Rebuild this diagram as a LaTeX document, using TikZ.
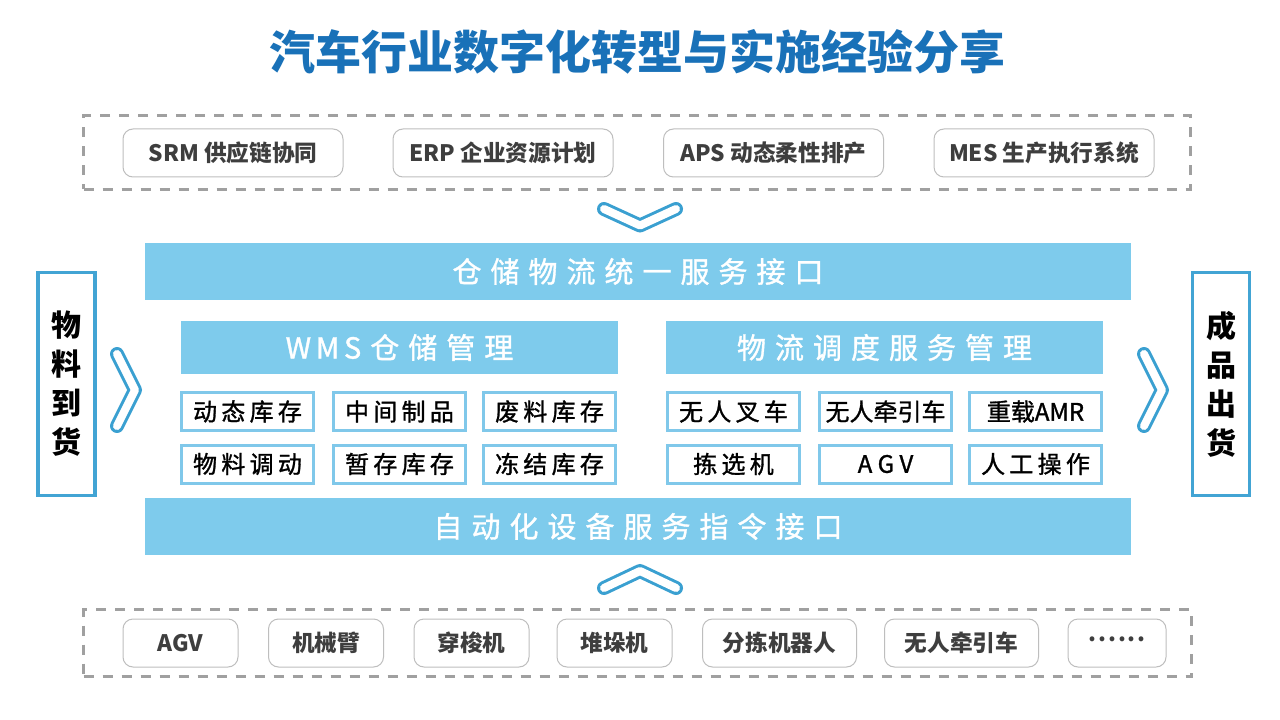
\documentclass[tikz,border=0pt]{standalone}
\usepackage{fontspec}
\setmainfont{Noto Sans CJK SC}
\newfontfamily\cjk{Noto Sans CJK SC}
\newfontfamily\cjkm[FakeBold=1.2]{Noto Sans CJK SC}
\definecolor{titleblue}{RGB}{25,113,184}
\definecolor{bandblue}{RGB}{126,203,236}
\definecolor{subblue}{RGB}{128,200,234}
\definecolor{chevblue}{RGB}{58,160,209}
\definecolor{sideblue}{RGB}{66,164,212}
\definecolor{dashgray}{RGB}{160,160,160}
\definecolor{boxgray}{RGB}{190,190,190}
\definecolor{textgray}{RGB}{62,62,62}
\newcommand\spr[2]{\def\sprsep{\hskip#1\relax}\spraux#2\relax}
\def\spraux#1{\ifx#1\relax\unskip\else#1\sprsep\expandafter\spraux\fi}
\tikzset{
  groupbox/.style={draw=dashgray, line width=2.25pt, dash pattern=on 7.5pt off 6.75pt, inner sep=0pt},
  itembox/.style={draw=boxgray, line width=0.75pt, rounded corners=7.5pt, fill=white, inner sep=0pt,
    minimum height=36pt, text=textgray, font=\cjk\bfseries\fontsize{17pt}{20pt}\selectfont},
  band/.style={fill=bandblue, inner sep=0pt, text=white, font=\cjkm\fontsize{21.75pt}{24pt}\selectfont},
  subbox/.style={draw=subblue, line width=2.25pt, fill=white, inner sep=0pt, minimum width=99pt,
    minimum height=28.5pt, text=black, font=\cjkm\fontsize{18pt}{20pt}\selectfont},
  sidebox/.style={draw=sideblue, line width=2.6pt, fill=white, inner sep=0pt, minimum width=43pt,
    minimum height=167pt, align=center, text=black, font=\cjk\bfseries\fontsize{22.5pt}{29.25pt}\selectfont},
  chev/.style={draw=chevblue, line width=2.25pt, double=white, double distance=6pt, line cap=round, line join=round}
}
\begin{document}
\begin{tikzpicture}[x=0.75pt,y=-0.75pt]
\useasboundingbox[fill=white] (0,0) rectangle (1280,720);

% title
\node[text=titleblue, font=\cjk\bfseries\fontsize{34.5pt}{40pt}\selectfont, inner sep=0pt] (title) at (637.5,52) {汽车行业数字化转型与实施经验分享};

% top group
\node[groupbox, minimum width=830pt, minimum height=55.5pt] (topgroup) at (637,152.5) {};
\node[itembox, minimum width=165pt] (srm) at (233,153) {SRM 供应链协同};
\node[itembox, minimum width=165pt] (erp) at (503,153) {ERP 企业资源计划};
\node[itembox, minimum width=165pt] (aps) at (773.5,153) {APS 动态柔性排产};
\node[itembox, minimum width=165pt] (mes) at (1044,153) {MES 生产执行系统};

% down chevron
\coordinate (cd1) at (604,209); \coordinate (cd2) at (640,225.5); \coordinate (cd3) at (676,209);
\draw[chev] (cd1) -- (cd2) -- (cd3);

% bands
\node[band, minimum width=739.5pt, minimum height=42.75pt] (upband) at (638,271.5) {\spr{6.75pt}{仓储物流统一服务接口}};
\node[band, minimum width=739.5pt, minimum height=42.75pt] (lowband) at (638,526.5) {\spr{6.75pt}{自动化设备服务指令接口}};
\node[band, minimum width=327.75pt, minimum height=39.75pt] (wms) at (399.5,347.5) {\spr{3.5pt}{WMS}\hskip6.75pt\spr{6.75pt}{仓储管理}};
\node[band, minimum width=327.75pt, minimum height=39.75pt] (lds) at (884.5,347.5) {\spr{6.75pt}{物流调度服务管理}};

% WMS sub boxes
\node[subbox] (w1) at (247.5,411.5) {\spr{3.2pt}{动态库存}};
\node[subbox] (w2) at (399.5,411.5) {\spr{3.2pt}{中间制品}};
\node[subbox] (w3) at (549.5,411.5) {\spr{3.2pt}{废料库存}};
\node[subbox] (w4) at (247.5,464) {\spr{3.2pt}{物料调动}};
\node[subbox] (w5) at (399.5,464) {\spr{3.2pt}{暂存库存}};
\node[subbox] (w6) at (549.5,464) {\spr{3.2pt}{冻结库存}};
% logistics sub boxes
\node[subbox] (l1) at (733.5,411.5) {\spr{3.2pt}{无人叉车}};
\node[subbox] (l2) at (885.5,411.5) {无人牵引车};
\node[subbox] (l3) at (1035.5,411.5) {重载AMR};
\node[subbox] (l4) at (733.5,464) {\spr{3.2pt}{拣选机}};
\node[subbox] (l5) at (885.5,464) {\spr{4pt}{AGV}};
\node[subbox] (l6) at (1035.5,464) {\spr{3.2pt}{人工操作}};

% side boxes
\node[sidebox] (inbound) at (66.5,384) {物\\料\\到\\货};
\node[sidebox] (outbound) at (1221,384) {成\\品\\出\\货};

% side chevrons
\coordinate (cl1) at (117,354); \coordinate (cl2) at (135,390); \coordinate (cl3) at (117,426);
\draw[chev] (cl1) -- (cl2) -- (cl3);
\coordinate (cr1) at (1144,354); \coordinate (cr2) at (1162,390); \coordinate (cr3) at (1144,426);
\draw[chev] (cr1) -- (cr2) -- (cr3);

% up chevron
\coordinate (cu1) at (604,588); \coordinate (cu2) at (640,571); \coordinate (cu3) at (676,588);
\draw[chev] (cu1) -- (cu2) -- (cu3);

% bottom group
\node[groupbox, minimum width=831pt, minimum height=50.25pt] (botgroup) at (637.5,643) {};
\node[itembox, minimum width=86.25pt] (b1) at (180.5,643) {AGV};
\node[itembox, minimum width=86.25pt] (b2) at (326,643) {机械臂};
\node[itembox, minimum width=86.25pt] (b3) at (471.5,643) {穿梭机};
\node[itembox, minimum width=86.25pt] (b4) at (614.5,643) {堆垛机};
\node[itembox, minimum width=115.5pt] (b5) at (779.5,643) {分拣机器人};
\node[itembox, minimum width=115.5pt] (b6) at (961.5,643) {无人牵引车};
\node[itembox, minimum width=73.5pt] (b7) at (1117,643) {\raisebox{0.3em}{\spr{1.5pt}{......}}};
\end{tikzpicture}
\end{document}
